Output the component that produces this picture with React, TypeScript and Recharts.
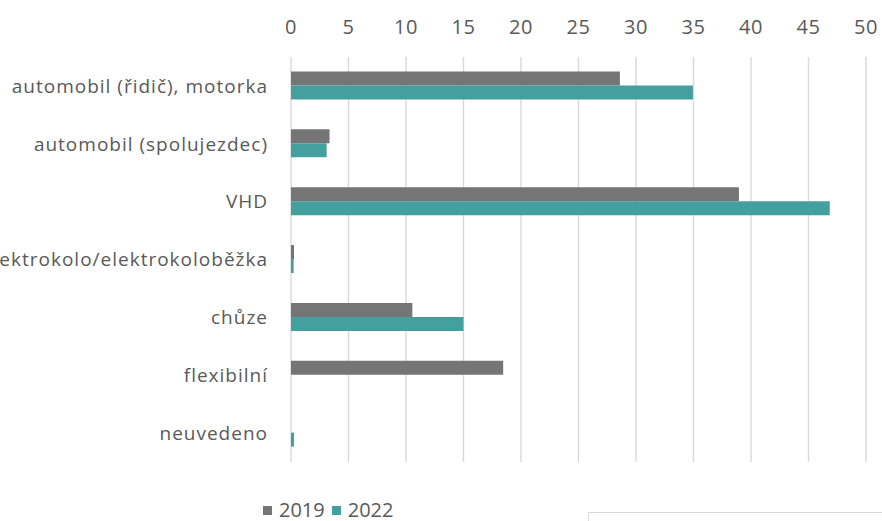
import React from "react";
import { BarChart, Bar, XAxis, YAxis, CartesianGrid } from "recharts";

const categories = [
  "automobil (řidič), motorka",
  "automobil (spolujezdec)",
  "VHD",
  "elektrokolo/elektrokoloběžka",
  "chůze",
  "flexibilní",
  "neuvedeno",
];
const values2019 = [28.6, 3.35, 38.95, 0.26, 10.55, 18.45, 0];
const values2022 = [34.95, 3.1, 46.85, 0.23, 15.0, 0, 0.26];
const xTicks = [0, 5, 10, 15, 20, 25, 30, 35, 40, 45, 50];

const series = [
  { key: "y2019", name: "2019", color: "#757575" },
  { key: "y2022", name: "2022", color: "#43a09e" },
];

const data = categories.map((c, i) => ({
  name: c,
  y2019: values2019[i],
  y2022: values2022[i],
}));

const FONT = "'Open Sans', sans-serif";

const App = () => {
  return (
    <div style={{ position: "absolute", left: 0, top: 0, width: 882, height: 521, overflow: "hidden", fontFamily: FONT }}>
      <BarChart
        width={882}
        height={521}
        data={data}
        layout="vertical"
        margin={{ top: 0, right: 16, bottom: 59, left: 0 }}
        barCategoryGap="25%"
        barGap={0}
      >
        <CartesianGrid horizontal={false} stroke="#d9d9d9" strokeWidth={1.4} />
        <XAxis
          type="number"
          orientation="top"
          domain={[0, 50]}
          ticks={xTicks}
          height={57}
          axisLine={false}
          tickLine={false}
          tickMargin={17}
          interval={0}
          tick={{ fill: "#595959", fontSize: 20, fontFamily: FONT, letterSpacing: 0.5 }}
        />
        <YAxis
          type="category"
          dataKey="name"
          width={291}
          axisLine={false}
          tickLine={false}
          tickMargin={17}
          interval={0}
          tick={{ fill: "#595959", fontSize: 19, fontFamily: FONT, letterSpacing: 1 }}
        />
        {series.map((s) => (
          <Bar key={s.key} dataKey={s.key} name={s.name} fill={s.color} isAnimationActive={false} />
        ))}
      </BarChart>
      <div
        style={{
          position: "absolute",
          left: 263,
          top: 498,
          display: "flex",
          alignItems: "center",
          fontSize: 20,
          color: "#595959",
          lineHeight: "24px",
        }}
      >
        {series.map((s) => (
          <div key={s.key} style={{ display: "flex", alignItems: "center", marginRight: 7 }}>
            <span style={{ display: "inline-block", width: 9, height: 9, background: s.color, marginRight: 7 }} />
            <span>{s.name}</span>
          </div>
        ))}
      </div>
      <div
        style={{
          position: "absolute",
          left: 588,
          top: 512,
          width: 320,
          height: 40,
          border: "1.5px solid #d9d9d9",
        }}
      />
    </div>
  );
};

export default App;
